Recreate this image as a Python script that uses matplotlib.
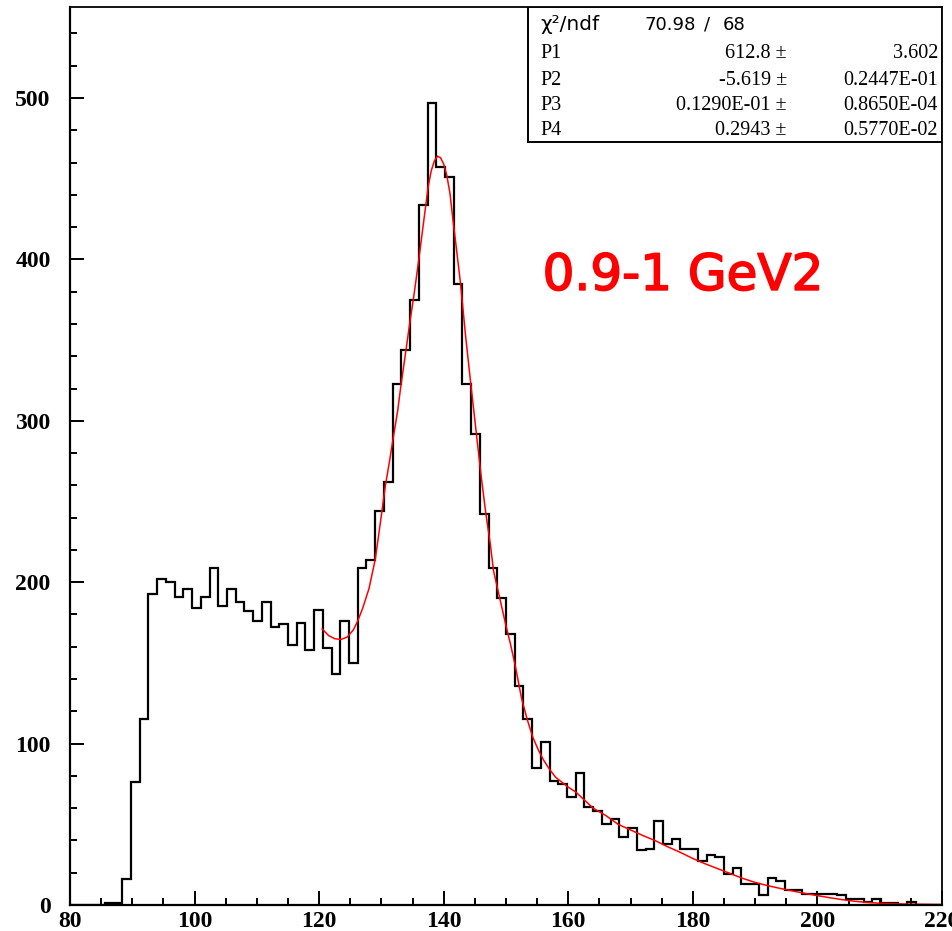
import numpy as np
import matplotlib
matplotlib.use("Agg")
import matplotlib.pyplot as plt
import matplotlib.patheffects as pe
from matplotlib.patches import Rectangle
from matplotlib.ticker import MultipleLocator

# histogram: 100 bins between 80 and 220
x_min, x_max, n_bins = 80, 220, 100
counts = [
    0, 0, 0, 0, 1, 1, 16, 76, 115, 193,
    202, 200, 191, 196, 184, 191, 209, 185, 196, 188,
    182, 176, 188, 172, 174, 161, 175, 158, 183, 159,
    143, 176, 150, 209, 214, 244, 262, 323, 344, 375,
    434, 497, 457, 451, 385, 323, 292, 242, 209, 190,
    168, 136, 115, 85, 101, 77, 75, 67, 82, 61,
    58, 50, 53, 42, 48, 34, 35, 52, 38, 41,
    35, 35, 27, 31, 30, 19, 23, 13, 13, 6,
    17, 15, 9, 9, 7, 7, 7, 7, 6, 4,
    4, 2, 4, 1, 1, 0, 2, 0, 0, 0,
]

# fitted curve (sampled)
fit_x = [120.5, 121.5, 122.5, 123.5, 124.5, 125.5, 126.2, 127.0, 128.0, 129.0,
         129.8, 130.6, 131.3, 132.0, 132.6, 133.1, 133.8, 134.6, 135.3, 136.0,
         136.5, 137.0, 137.5, 138.0, 138.5, 139.0, 139.5, 140.0, 140.5, 141.0,
         141.5, 142.0, 142.7, 143.5, 144.4, 145.1, 146.0, 146.75, 147.5, 148.0,
         149.0, 150.0, 150.7, 151.5, 152.5, 153.4, 154.3, 155.2, 156.0, 157.0,
         158.0, 159.0, 160.0, 161.2, 162.6, 164.0, 166.0, 168.0, 170.0, 172.0,
         174.0, 176.0, 178.0, 180.0, 182.0, 184.0, 186.0, 188.0, 190.0, 192.0,
         194.0, 196.0, 198.0, 200.0, 202.0, 204.0, 206.0, 208.0, 210.0, 212.0,
         215.0, 220.0]
fit_y = [171, 167, 165, 164.5, 166, 170.5, 176, 184, 196, 214,
         236, 259, 275, 292, 306, 321, 340, 362, 380, 400,
         415, 430, 445, 455, 461, 464, 463, 459, 452, 441,
         424, 408, 385, 353, 321, 297, 266, 243, 223, 207,
         190, 173, 162, 148, 128, 115, 104, 96, 90, 84,
         79, 76, 73, 70, 65, 60, 55.5, 50, 46.5, 43,
         39.8, 36, 32.6, 28.8, 25.5, 22.5, 19.5, 16.5, 14, 12,
         10.3, 8.7, 7.2, 5.8, 4.5, 3.3, 2.3, 1.6, 1.1, 0.8,
         0.5, 0.3]

stat_names = ["P1", "P2", "P3", "P4"]
stat_vals = ["612.8", "-5.619", "0.1290E-01", "0.2943"]
stat_errs = ["3.602", "0.2447E-01", "0.8650E-04", "0.5770E-02"]
chi2, ndf = "70.98", "68"

fig = plt.figure(figsize=(9.53, 9.31), dpi=100)
ax = fig.add_axes([70 / 953, 26 / 931, 872 / 953, 898 / 931])

edges = np.linspace(x_min, x_max, n_bins + 1)
ax.stairs(counts, edges, color="black", lw=1.6)
ax.plot(fit_x, fit_y, color="#ff0000", lw=1.1)

ax.set_xlim(x_min, x_max)
ax.set_ylim(0, 556.4)

ax.xaxis.set_major_locator(MultipleLocator(20))
ax.xaxis.set_minor_locator(MultipleLocator(5))
ax.yaxis.set_major_locator(MultipleLocator(100))
ax.yaxis.set_minor_locator(MultipleLocator(20))
ax.tick_params(which="both", direction="in", width=1.4, top=False, right=False)
ax.tick_params(which="major", length=10)
ax.tick_params(which="minor", length=5)
ax.tick_params(axis="x", pad=4)
ax.tick_params(axis="y", pad=14)
for lab in ax.get_xticklabels() + ax.get_yticklabels():
    lab.set_fontfamily("Liberation Serif")
    lab.set_fontweight("bold")
    lab.set_fontsize(17)

for side in ["left", "bottom"]:
    ax.spines[side].set_linewidth(1.6)
for side in ["top", "right"]:
    ax.spines[side].set_linewidth(1.3)

# fit statistics box
x0, y0 = (528 - 70) / 872, (905 - 142) / 898
ax.add_patch(Rectangle((x0, y0), 1 - x0, 1 - y0, transform=ax.transAxes,
                       facecolor="white", edgecolor="black", lw=1.4, zorder=5))
rows = [0.8630, 0.8898, 0.9187, 0.9477][::-1]
ax.text(0.539, 0.980, "χ²/ndf", transform=ax.transAxes, fontsize=14.5,
        family="DejaVu Sans", va="center", zorder=6)
ax.text(0.659, 0.980, chi2, transform=ax.transAxes,
        fontsize=13, family="DejaVu Sans", va="center", zorder=6)
ax.text(0.7305, 0.980, "/", transform=ax.transAxes, ha="center",
        fontsize=13, family="DejaVu Sans", va="center", zorder=6)
ax.text(0.748, 0.980, ndf, transform=ax.transAxes,
        fontsize=13, family="DejaVu Sans", va="center", zorder=6)
for name, val, err, yy in zip(stat_names, stat_vals, stat_errs, rows):
    ax.text(0.539, yy, name, transform=ax.transAxes, fontsize=14.5,
            family="Liberation Serif", va="center", zorder=6)
    ax.text(0.822, yy, val + " ±", transform=ax.transAxes, fontsize=14.5,
            family="Liberation Serif", va="center", ha="right", zorder=6)
    ax.text(0.9954, yy, err, transform=ax.transAxes, fontsize=14.5,
            family="Liberation Serif", va="center", ha="right", zorder=6)

ax.text(0.542, 0.685, "0.9-1 GeV2", transform=ax.transAxes, fontsize=36,
        family="DejaVu Sans", color="#ff0000", va="baseline", ha="left",
        path_effects=[pe.withStroke(linewidth=1.2, foreground="#ff0000")])

fig.savefig("out.png", dpi=100)
